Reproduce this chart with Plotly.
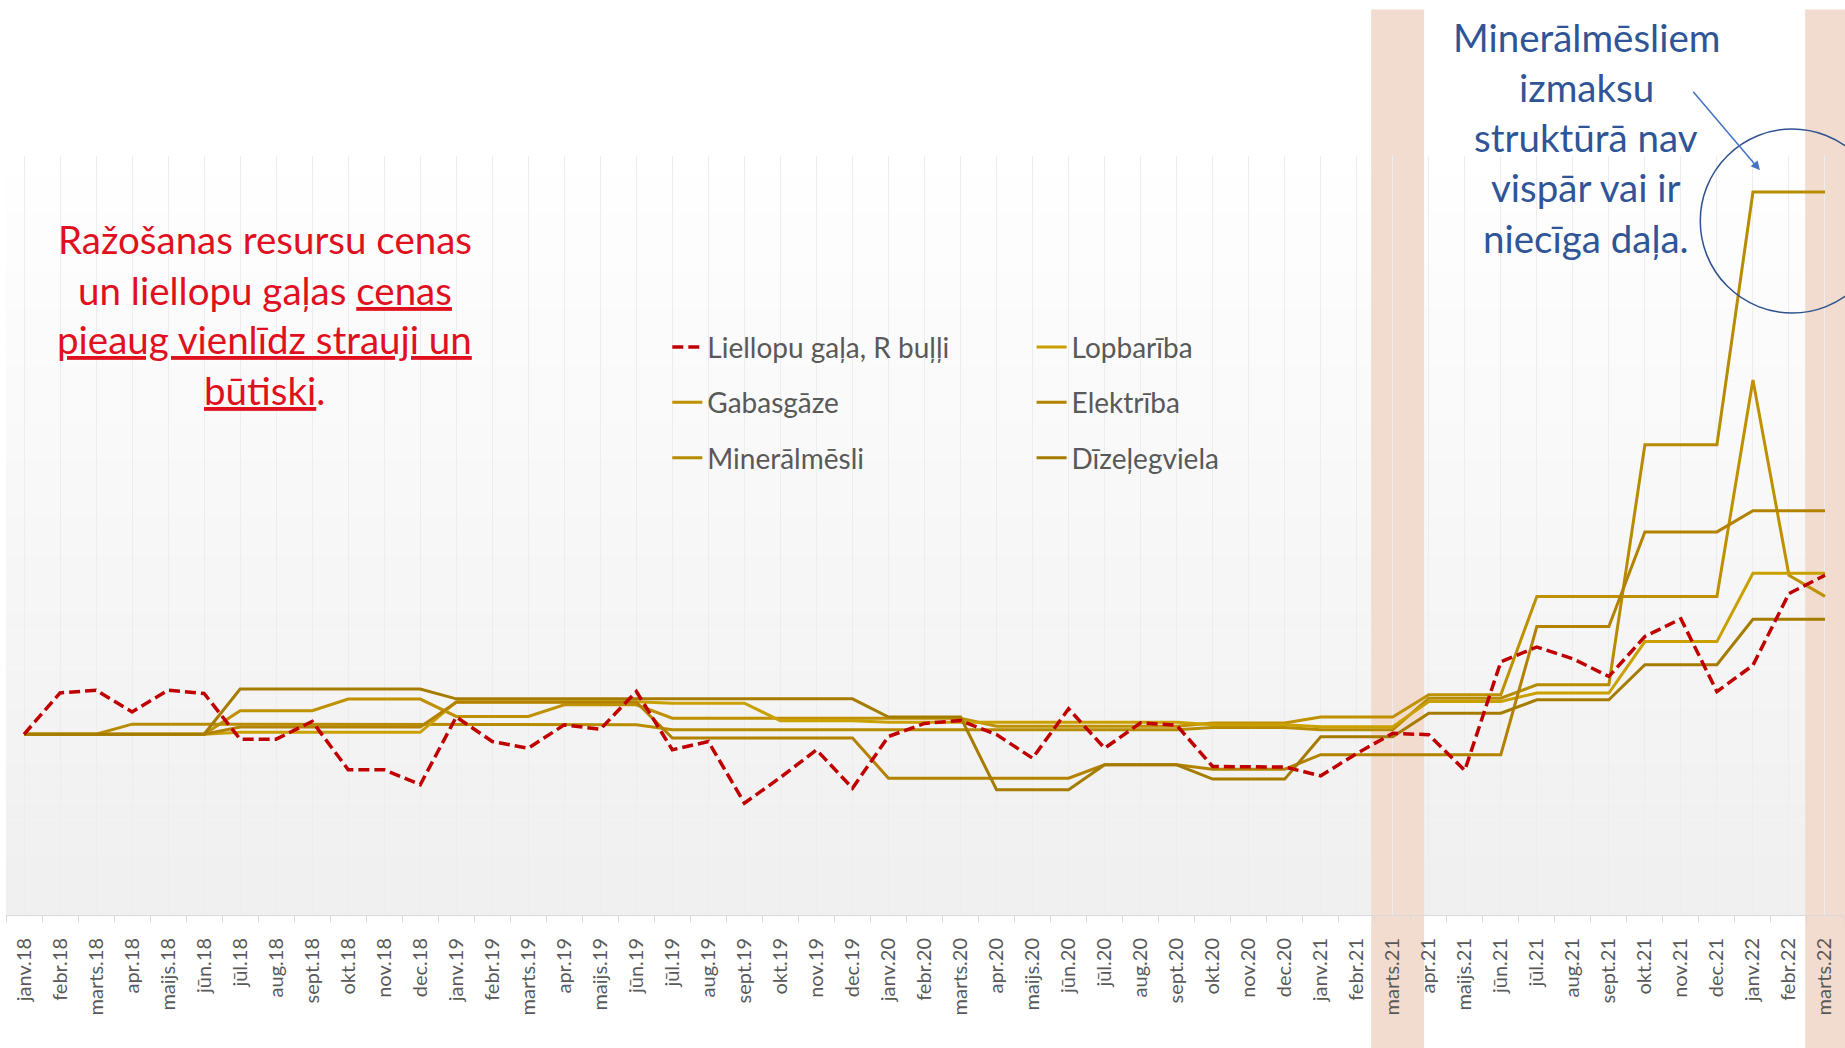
import plotly.graph_objects as go

# month labels janv.18 ... marts.22
month_names = ['janv', 'febr', 'marts', 'apr', 'maijs', 'jūn', 'jūl', 'aug', 'sept', 'okt', 'nov', 'dec']
years = ['18', '19', '20', '21', '22']
labels = [f'{m}.{y}' for y in years for m in month_names][:51]
x_idx = list(range(len(labels)))

# price indices (Jan 2018 = 100)
liellopi = [100, 122.9, 124.4, 112.4, 124.4, 122.6, 97.3, 97.3, 107.1, 80.4, 80.4, 72.1,
            109.6, 96.0, 92.3, 105.2, 102.8, 123.7, 91.4, 96.0, 61.9, 76.1, 91.4, 70.2,
            98.8, 106.0, 107.6, 99.8, 86.8, 114.1, 92.3, 106.3, 105.0, 82.2, 82.0, 81.9,
            77.0, 89.4, 100.5, 99.8, 80.0, 140.1, 148.3, 141.8, 132.0, 154.1, 163.9, 123.6,
            138.2, 177.9, 188.0]

lopbariba = [100, 100, 100, 100, 100, 100, 101.1, 101.1, 101.1, 101.1, 101.1, 101.1,
             118.0, 118.0, 118.0, 118.0, 118.0, 118.0, 117.2, 117.2, 117.2, 107.5, 107.5, 107.5,
             106.6, 106.6, 106.6, 106.6, 106.6, 106.6, 106.6, 106.6, 106.6, 105.3, 105.3, 105.3,
             104.2, 104.2, 104.2, 118.2, 118.2, 118.2, 122.8, 122.8, 122.8, 151.3, 151.3, 151.3,
             189.1, 189.1, 189.1]

gabasgaze = [100, 100, 100, 100, 100, 100, 113.0, 113.0, 113.0, 119.5, 119.5, 119.5,
             109.9, 109.9, 109.9, 116.3, 116.3, 116.3, 108.9, 108.9, 108.9, 108.9, 108.9, 108.9,
             108.9, 108.9, 108.9, 104.4, 104.4, 104.4, 104.4, 104.4, 104.4, 106.2, 106.2, 106.2,
             109.5, 109.5, 109.5, 121.9, 121.9, 121.9, 176.3, 176.3, 176.3, 176.3, 176.3, 176.3,
             296.0, 188.0, 176.3]

elektriba = [100, 100, 100, 100, 100, 100, 104.0, 104.0, 104.0, 104.0, 104.0, 104.0,
             117.7, 117.7, 117.7, 117.7, 117.7, 117.7, 97.9, 97.9, 97.9, 97.9, 97.9, 97.9,
             75.7, 75.7, 75.7, 75.7, 75.7, 75.7, 83.1, 83.1, 83.1, 80.7, 80.7, 80.7,
             88.7, 88.7, 88.7, 88.7, 88.7, 88.7, 159.6, 159.6, 159.6, 212.0, 212.0, 212.0,
             223.7, 223.7, 223.7]

mineralmesli = [100, 100, 100, 105.6, 105.6, 105.6, 105.6, 105.6, 105.6, 105.6, 105.6, 105.6,
                105.3, 105.3, 105.3, 105.3, 105.3, 105.3, 102.5, 102.5, 102.5, 102.5, 102.5, 102.5,
                102.5, 102.5, 102.5, 102.5, 102.5, 102.5, 102.5, 102.5, 102.5, 103.7, 103.7, 103.7,
                102.5, 102.5, 102.5, 120.0, 120.0, 120.0, 127.4, 127.4, 127.4, 260.2, 260.2, 260.2,
                400.1, 400.1, 400.1]

dizelis = [100, 100, 100, 100, 100, 100, 125.0, 125.0, 125.0, 125.0, 125.0, 125.0,
           119.6, 119.6, 119.6, 119.6, 119.6, 119.6, 119.6, 119.6, 119.6, 119.6, 119.6, 119.6,
           109.5, 109.5, 109.5, 69.3, 69.3, 69.3, 83.1, 83.1, 83.1, 75.2, 75.2, 75.2,
           98.6, 98.6, 98.6, 111.7, 111.7, 111.7, 119.1, 119.1, 119.1, 138.5, 138.5, 138.5,
           163.6, 163.6, 163.6]

x_range = [-0.5, 50.5]
y_range = [0, 420]

def xpaper(v):
    return (v - x_range[0]) / (x_range[1] - x_range[0])

fig = go.Figure()

# golden input-price lines (column 1 / column 2 of the legend)
golden = [
    ('Gabasgāze', gabasgaze, '#bf9000', 'legend', 2),
    ('Minerālmēsli', mineralmesli, '#b88c00', 'legend', 3),
    ('Lopbarība', lopbariba, '#c9a000', 'legend2', 1),
    ('Elektrība', elektriba, '#b38200', 'legend2', 2),
    ('Dīzeļegviela', dizelis, '#a67c00', 'legend2', 3),
]
for name, vals, col, leg, rank in golden:
    fig.add_trace(go.Scatter(
        x=x_idx, y=vals, name=name, mode='lines',
        line=dict(color=col, width=3),
        legend=leg, legendgroup=name, legendrank=rank,
    ))

fig.add_trace(go.Scatter(
    x=x_idx, y=liellopi, name='Liellopu gaļa, R buļļi', mode='lines',
    line=dict(color='#c00000', width=3.5, dash='11px,5px'),
    legend='legend', legendgroup='liellopi', legendrank=1,
))

# soft vertical gradient behind the plot area
shapes = []
n_steps = 40
for k in range(n_steps):
    t = k / (n_steps - 1)
    c = int(240 + 15 * t)
    shapes.append(dict(type='rect', xref='paper', yref='paper',
                       x0=0, x1=1, y0=k / n_steps, y1=(k + 1) / n_steps,
                       fillcolor=f'rgb({c},{c},{c})', line=dict(width=0), layer='below'))

# highlighted months (marts.21 and marts.22)
for a, b in [(37.4, 38.87), (49.45, 50.6)]:
    shapes.append(dict(type='rect', xref='paper', yref='paper',
                       x0=xpaper(a), x1=xpaper(b), y0=-0.176, y1=1.193,
                       fillcolor='#f2dccf', line=dict(width=0), layer='below'))

# circle around the fertiliser jump
shapes.append(dict(type='circle', xref='paper', yref='paper',
                   x0=0.9223, x1=1.0224, y0=0.7931, y1=1.0356,
                   line=dict(color='#2f528f', width=1.5), fillcolor='rgba(0,0,0,0)', layer='above'))

red = '#e0101e'
blue = '#2f5597'
annotations = []
red_lines = ['Ražošanas resursu cenas', 'un liellopu gaļas <u>cenas</u>',
             '<u>pieaug vienlīdz strauji un</u>', '<u>būtiski</u>.']
red_y = [0.891, 0.8238, 0.7593, 0.6918]
for txt, yy in zip(red_lines, red_y):
    annotations.append(dict(text=txt, xref='paper', yref='paper', x=0.1409, y=yy,
                            xanchor='center', yanchor='middle', showarrow=False,
                            font=dict(family='Lato', size=38.5, color=red)))

blue_lines = ['Minerālmēsliem', 'izmaksu', 'struktūrā nav', 'vispār vai ir', 'niecīga daļa.']
blue_y = [1.1568, 1.0905, 1.0252, 0.9585, 0.8925]
for txt, yy in zip(blue_lines, blue_y):
    annotations.append(dict(text=txt, xref='paper', yref='paper', x=0.8603, y=yy,
                            xanchor='center', yanchor='middle', showarrow=False,
                            font=dict(family='Lato', size=38.5, color=blue)))

annotations.append(dict(text='', xref='paper', yref='paper', x=0.9548, y=0.9812,
                        ax=-68, ay=-80, showarrow=True, arrowhead=2, arrowsize=1.2,
                        arrowwidth=1.5, arrowcolor='#4472c4', standoff=0))

legend_style = dict(xanchor='left', yanchor='top', bgcolor='rgba(0,0,0,0)',
                    font=dict(family='Lato', size=28, color='#595959'),
                    tracegroupgap=16, itemwidth=30)

fig.update_layout(
    width=1845, height=1048,
    margin=dict(l=6, r=2, t=156, b=133, pad=0),
    paper_bgcolor='white',
    plot_bgcolor='rgba(0,0,0,0)',
    font=dict(family='Lato', color='#595959'),
    xaxis=dict(
        range=x_range, tickmode='array', tickvals=x_idx, ticktext=labels,
        tickangle=-90, ticks='', showgrid=True, gridcolor='#ededed', gridwidth=1,
        showline=True, linecolor='#d9d9d9', linewidth=1, zeroline=False,
        tickfont=dict(family='Lato', size=20, color='#595959'),
        ticklabelstandoff=14,
        minor=dict(tickmode='linear', tick0=-0.5, dtick=1, ticks='outside',
                   ticklen=6, tickcolor='#d9d9d9', showgrid=False),
    ),
    yaxis=dict(range=y_range, visible=False),
    legend=dict(x=0.360, y=0.781, **legend_style),
    legend2=dict(x=0.5583, y=0.781, **legend_style),
    shapes=shapes,
    annotations=annotations,
)

fig.write_html("out.html", config={'displayModeBar': False},
               post_script="document.body.style.margin='0px';")
